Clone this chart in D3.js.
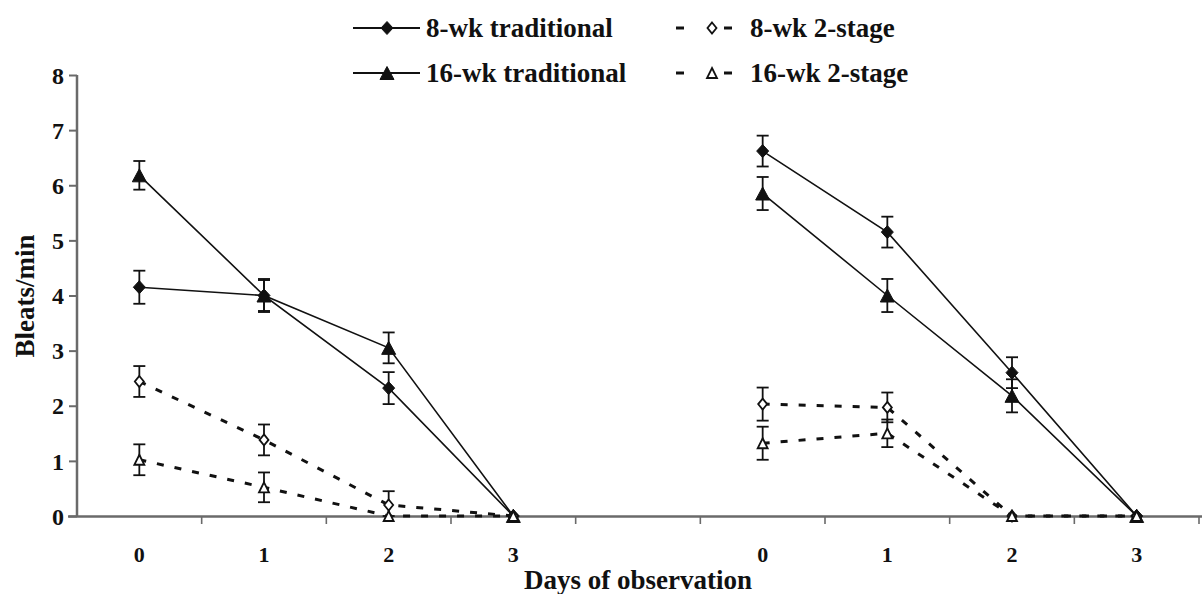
<!DOCTYPE html>
<html>
<head>
<meta charset="utf-8">
<script src="https://cdn.jsdelivr.net/npm/d3@7"></script>
<style>
  html, body { margin: 0; padding: 0; background: #fff; }
  svg { display: block; }
  text { font-family: "Liberation Serif", "Times New Roman", serif; font-weight: bold; fill: #111; }
</style>
</head>
<body>
<svg id="chart" width="1202" height="594"></svg>
<script>
// ---------- data ----------
const xCategories = ["A0", "A1", "A2", "A3", "gap", "B0", "B1", "B2", "B3"];
const xTickLabels = ["0", "1", "2", "3", "", "0", "1", "2", "3"];
const yTicks = [0, 1, 2, 3, 4, 5, 6, 7, 8];
const groupADays = ["A0", "A1", "A2", "A3"];
const groupBDays = ["B0", "B1", "B2", "B3"];

const seriesNames = ["8-wk traditional", "8-wk 2-stage", "16-wk traditional", "16-wk 2-stage"];

const trad8A = [4.15, 4.0, 2.32, 0];
const trad8AErr = [0.3, 0.28, 0.29, 0];
const trad16A = [6.18, 4.0, 3.05, 0];
const trad16AErr = [0.26, 0.3, 0.28, 0];
const stage8A = [2.44, 1.38, 0.2, 0];
const stage8AErr = [0.28, 0.28, 0.25, 0];
const stage16A = [1.02, 0.52, 0, 0];
const stage16AErr = [0.28, 0.27, 0, 0];

const trad8B = [6.62, 5.15, 2.6, 0];
const trad8BErr = [0.28, 0.28, 0.28, 0];
const trad16B = [5.85, 4.0, 2.18, 0];
const trad16BErr = [0.3, 0.3, 0.3, 0];
const stage8B = [2.03, 1.97, 0, 0];
const stage8BErr = [0.3, 0.27, 0, 0];
const stage16B = [1.32, 1.5, 0, 0];
const stage16BErr = [0.3, 0.25, 0, 0];

// ---------- layout ----------
const svg = d3.select("#chart");
const x = d3.scaleBand().domain(xCategories).range([77, 1199]).padding(0);
const y = d3.scaleLinear().domain([0, 8]).range([516, 75]);
const cx = k => x(k) + x.bandwidth() / 2;

const axisColor = "#6a6a6a";

const series = [
  { name: seriesNames[0], shape: "diamond", filled: true, dashed: false,
    parts: [[groupADays, trad8A, trad8AErr], [groupBDays, trad8B, trad8BErr]] },
  { name: seriesNames[2], shape: "triangle", filled: true, dashed: false,
    parts: [[groupADays, trad16A, trad16AErr], [groupBDays, trad16B, trad16BErr]] },
  { name: seriesNames[1], shape: "diamond", filled: false, dashed: true,
    parts: [[groupADays, stage8A, stage8AErr], [groupBDays, stage8B, stage8BErr]] },
  { name: seriesNames[3], shape: "triangle", filled: false, dashed: true,
    parts: [[groupADays, stage16A, stage16AErr], [groupBDays, stage16B, stage16BErr]] }
];

function symbolPath(shape, filled) {
  const p = d3.path();
  if (shape === "diamond") {
    const w = filled ? 6 : 4.5, h = filled ? 6.5 : 5.5;
    p.moveTo(0, -h); p.lineTo(w, 0); p.lineTo(0, h); p.lineTo(-w, 0); p.closePath();
  } else {
    const w = filled ? 7 : 5, h = filled ? 6.5 : 5;
    p.moveTo(0, -h); p.lineTo(w, h); p.lineTo(-w, h); p.closePath();
  }
  return p.toString();
}

// ---------- axes ----------
const yAxis = d3.axisLeft(y).tickValues(yTicks).tickSize(8).tickPadding(5).tickFormat(d3.format("d"));
const gy = svg.append("g").attr("transform", "translate(77,0)").call(yAxis);
gy.select(".domain").attr("stroke", axisColor).attr("stroke-width", 2.5).attr("d", "M0,75V517");
gy.selectAll(".tick line").attr("stroke", axisColor).attr("stroke-width", 2);
gy.selectAll(".tick text").attr("font-size", 24).attr("fill", "#111").attr("dy", "0.34em")
  .attr("font-family", "'Liberation Serif', 'Times New Roman', serif").attr("font-weight", "bold");

const gx = svg.append("g").attr("class", "xaxis");
gx.append("line").attr("x1", 68).attr("x2", 1202).attr("y1", 516.5).attr("y2", 516.5)
  .attr("stroke", axisColor).attr("stroke-width", 2.5);
gx.selectAll("line.tk").data(xCategories).enter().append("line").attr("class", "tk")
  .attr("x1", d => x(d) + x.bandwidth()).attr("x2", d => x(d) + x.bandwidth())
  .attr("y1", 516).attr("y2", 524).attr("stroke", axisColor).attr("stroke-width", 1.6);
gx.selectAll("text.tl").data(xCategories).enter().append("text").attr("class", "tl")
  .attr("x", d => cx(d)).attr("y", 562).attr("text-anchor", "middle").attr("font-size", 22)
  .text((d, i) => xTickLabels[i]);

svg.append("text").attr("x", 638).attr("y", 589).attr("text-anchor", "middle").attr("font-size", 27)
  .text("Days of observation");
svg.append("text").attr("transform", "translate(34,296) rotate(-90)").attr("text-anchor", "middle")
  .attr("font-size", 27).text("Bleats/min");

// ---------- marks ----------
const line = d3.line().x(d => cx(d.k)).y(d => y(d.v));
const plot = svg.append("g");

series.forEach(s => {
  s.parts.forEach(([days, vals]) => {
    const pts = days.map((k, i) => ({ k, v: vals[i] }));
    plot.append("path").attr("d", line(pts)).attr("fill", "none").attr("stroke", "#111")
      .attr("stroke-width", s.dashed ? 3 : 1.6)
      .attr("stroke-dasharray", s.dashed ? "7,11" : null);
  });
});

series.forEach(s => {
  s.parts.forEach(([days, vals, errs]) => {
    days.forEach((k, i) => {
      const e = errs[i];
      if (e > 0) {
        const xx = cx(k), y1 = y(vals[i] + e), y2 = y(Math.max(0, vals[i] - e));
        const g = plot.append("g").attr("stroke", "#111").attr("stroke-width", 1.8);
        g.append("line").attr("x1", xx).attr("x2", xx).attr("y1", y1).attr("y2", y2);
        g.append("line").attr("x1", xx - 6).attr("x2", xx + 6).attr("y1", y1).attr("y2", y1);
        g.append("line").attr("x1", xx - 6).attr("x2", xx + 6).attr("y1", y2).attr("y2", y2);
      }
    });
  });
});

series.forEach(s => {
  s.parts.forEach(([days, vals]) => {
    days.forEach((k, i) => {
      plot.append("path").attr("d", symbolPath(s.shape, s.filled))
        .attr("transform", `translate(${cx(k)},${y(vals[i])})`)
        .attr("fill", s.filled ? "#111" : "#fff").attr("stroke", "#111")
        .attr("stroke-width", s.filled ? 1 : 1.8);
    });
  });
});

// ---------- legend ----------
const legendItems = [
  { s: series[0], x: 353, y: 28 },
  { s: series[2], x: 680, y: 28 },
  { s: series[1], x: 353, y: 73 },
  { s: series[3], x: 680, y: 73 }
];
const lg = svg.append("g");
legendItems.forEach(it => {
  const s = it.s;
  if (s.dashed) {
    lg.append("line").attr("x1", it.x - 4).attr("x2", it.x + 4).attr("y1", it.y).attr("y2", it.y)
      .attr("stroke", "#111").attr("stroke-width", 3);
    lg.append("line").attr("x1", it.x + 44).attr("x2", it.x + 52).attr("y1", it.y).attr("y2", it.y)
      .attr("stroke", "#111").attr("stroke-width", 3);
    lg.append("path").attr("d", symbolPath(s.shape, false))
      .attr("transform", `translate(${it.x + 32},${it.y})`)
      .attr("fill", "#fff").attr("stroke", "#111").attr("stroke-width", 1.8);
    lg.append("text").attr("x", it.x + 70).attr("y", it.y + 9).attr("font-size", 27).text(s.name);
  } else {
    lg.append("line").attr("x1", it.x).attr("x2", it.x + 67).attr("y1", it.y).attr("y2", it.y)
      .attr("stroke", "#111").attr("stroke-width", 2);
    lg.append("path").attr("d", symbolPath(s.shape, true))
      .attr("transform", `translate(${it.x + 34},${it.y})`)
      .attr("fill", "#111").attr("stroke", "#111").attr("stroke-width", 1);
    lg.append("text").attr("x", it.x + 73).attr("y", it.y + 9).attr("font-size", 27).text(s.name);
  }
});
</script>
</body>
</html>
